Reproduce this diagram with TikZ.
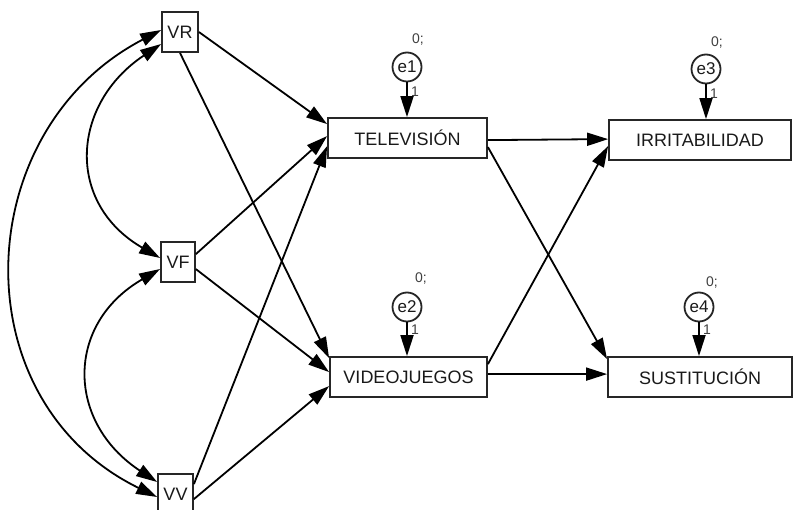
\documentclass[tikz,border=0pt]{standalone}
\usepackage{fontspec}
\setmainfont{Liberation Sans}
\usetikzlibrary{arrows.meta,calc}
\begin{document}
\begin{tikzpicture}[x=1pt,y=-1pt,
  box/.style={draw=black!85, line width=1.8pt, rectangle, inner sep=0pt, minimum height=40pt, font=\fontsize{18}{18}\selectfont, text=black!90},
  err/.style={draw=black!85, line width=1.8pt, circle, inner sep=0pt, minimum size=29pt, font=\fontsize{17}{17}\selectfont, text=black!90},
  lbl/.style={font=\fontsize{14}{14}\selectfont, text=black!75, inner sep=0pt},
  conn/.style={line width=1.8pt, -{Triangle[length=21pt,width=13pt]}},
  cov/.style={line width=1.8pt, {Triangle[length=21pt,width=13pt]}-{Triangle[length=21pt,width=13pt]}}
]
\useasboundingbox (0,0) rectangle (795,510);

% observed variables
\node[box, minimum width=36pt] (VR) at (180,32) {VR};
\node[box, minimum width=34pt] (VF) at (178,262) {VF};
\node[box, minimum width=35pt] (VV) at (175.5,494) {VV};
\node[box, minimum width=159pt] (TV) at (407.5,138) {TELEVISIÓN};
\node[box, minimum width=157pt] (VJ) at (408.5,377) {VIDEOJUEGOS};
\node[box, minimum width=182pt] (IR) at (700,140) {IRRITABILIDAD};
\node[box, minimum width=184pt] (SU) at (700,377) {SUSTITUCIÓN};

% error terms
\node[err] (e1) at (407,67) {e1};
\node[err] (e2) at (407,307) {e2};
\node[err] (e3) at (706,69) {e3};
\node[err] (e4) at (699,307) {e4};

\node[lbl] (z1) at (418,40) {0;};
\node[lbl] (z2) at (421,279) {0;};
\node[lbl] (z3) at (717,43) {0;};
\node[lbl] (z4) at (712,283) {0;};

\node[lbl] (o1) at (415,92) {1};
\node[lbl] (o2) at (415,330) {1};
\node[lbl] (o3) at (714,94) {1};
\node[lbl] (o4) at (707,330) {1};

\draw[conn] (e1.south) -- (e1.south |- TV.north);
\draw[conn] (e2.south) -- (e2.south |- VJ.north);
\draw[conn] (e3.south) -- (e3.south |- IR.north);
\draw[conn] (e4.south) -- (e4.south |- SU.north);

% regressions
\draw[conn] (VR.east) -- ($(TV.north west)+(0,7)$);
\draw[conn] (VR.south) -- ($(VJ.north west)+(0,2)$);
\draw[conn] ($(VF.north east)+(0,13)$) -- ($(TV.north west)+(0,19)$);
\draw[conn] ($(VF.north east)+(0,28)$) -- ($(VJ.north west)+(0,16)$);
\draw[conn] ($(VV.north east)+(0,11)$) -- ($(TV.north west)+(0,29)$);
\draw[conn] ($(VV.north east)+(0,26)$) -- ($(VJ.north west)+(0,30)$);
\draw[conn] ($(TV.north east)+(0,23)$) -- ($(IR.north west)+(0,20)$);
\draw[conn] ($(TV.north east)+(0,30)$) -- ($(SU.north west)+(0,3)$);
\draw[conn] ($(VJ.north east)+(0,8)$) -- ($(IR.north west)+(0,27)$);
\draw[conn] ($(VJ.north east)+(0,18)$) -- ($(SU.north west)+(0,18)$);

% covariances
\draw[cov] ($(VR.west)+(0,-2)$) .. controls ($(VR.west)+(-192,98)$) and ($(VV.west)+(-198,-94)$) .. ($(VV.west)+(0,3)$);
\draw[cov] ($(VR.west)+(0,12)$) .. controls ($(VR.west)+(-90,72)$) and ($(VF.west)+(-95,-59)$) .. ($(VF.west)+(0,-4)$);
\draw[cov] ($(VF.west)+(0,7)$) .. controls ($(VF.west)+(-95,62)$) and ($(VV.west)+(-91,-72)$) .. ($(VV.west)+(0,-12)$);
\end{tikzpicture}
\end{document}
